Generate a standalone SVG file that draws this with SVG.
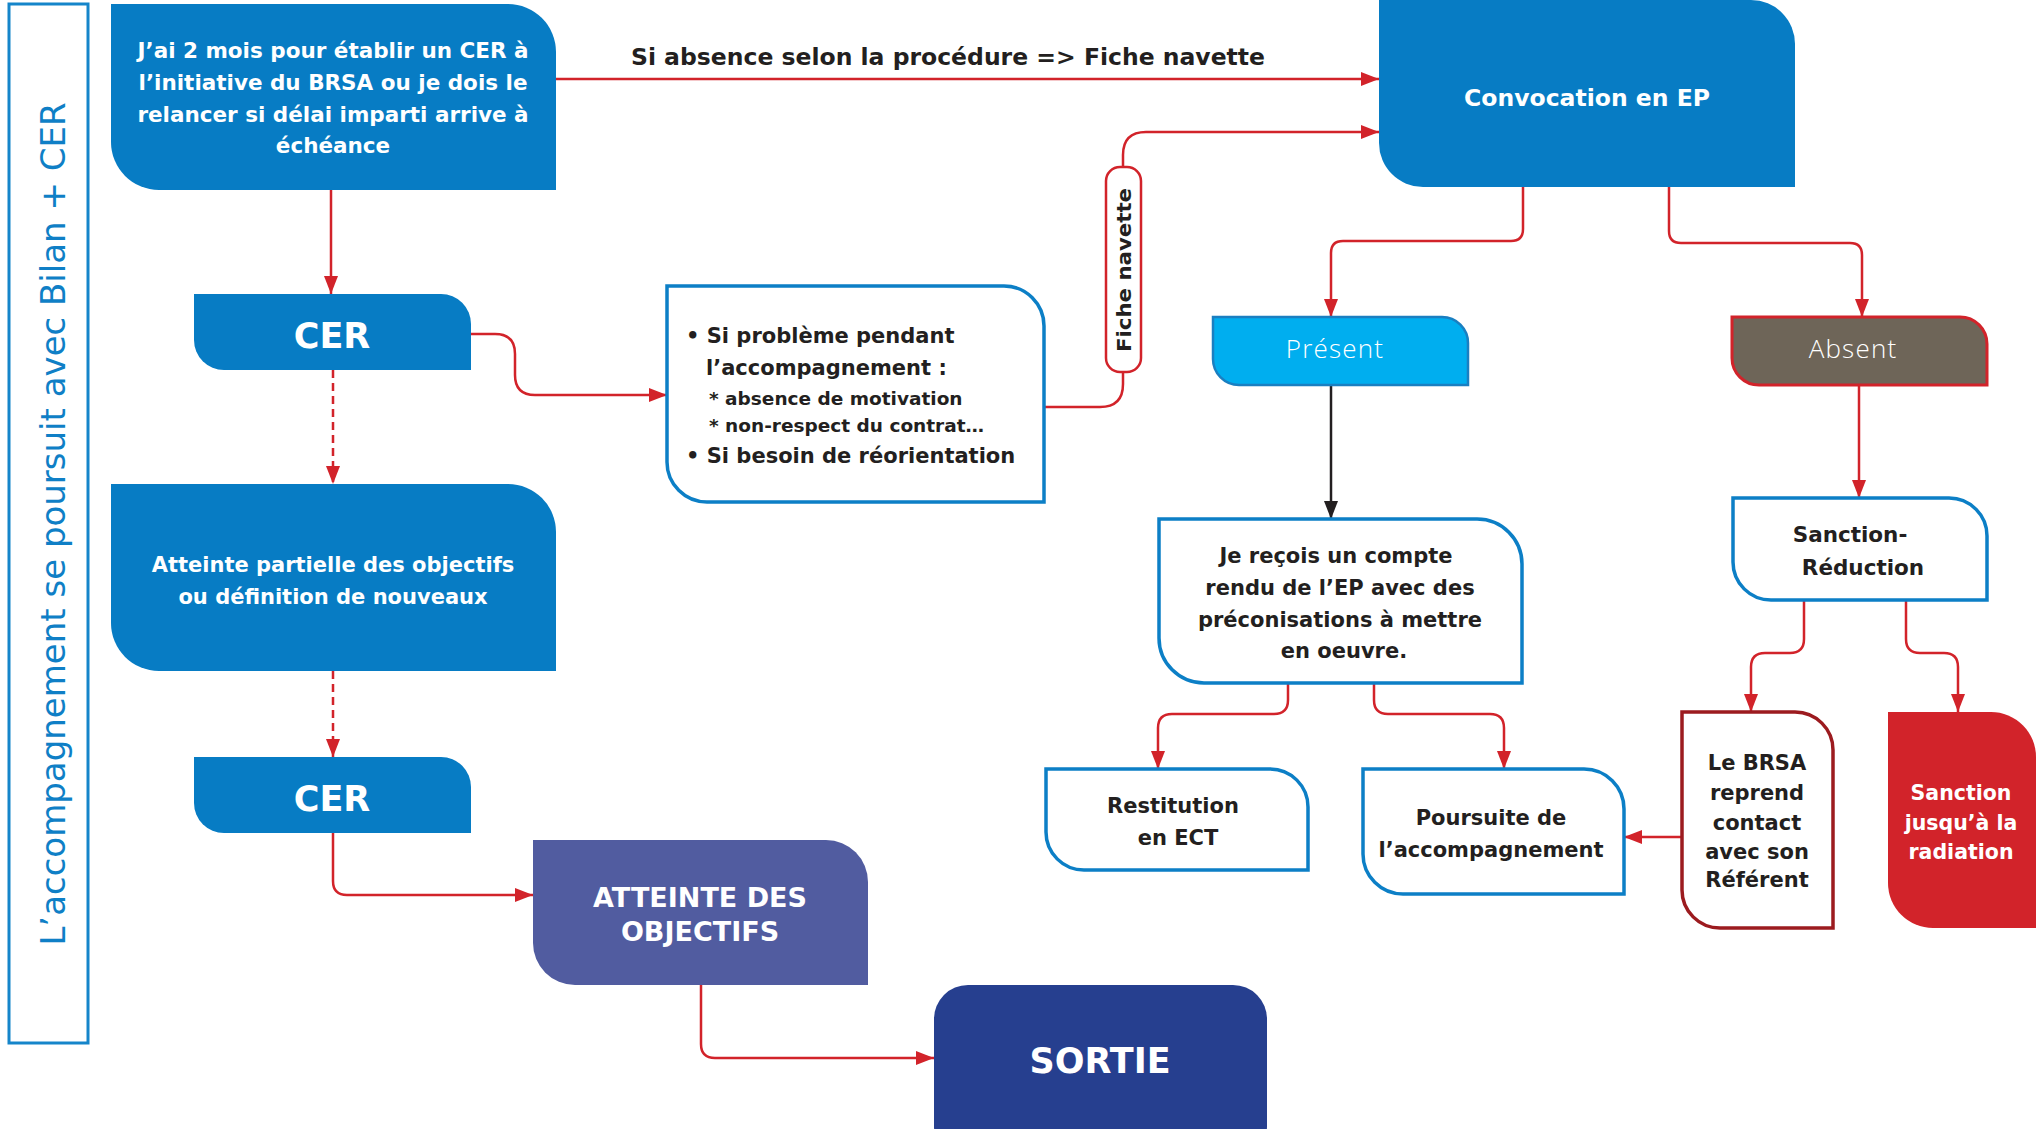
<svg xmlns="http://www.w3.org/2000/svg" width="2040" height="1129" viewBox="0 0 2040 1129">
  <style>
    .t { font-family: "DejaVu Sans", "Liberation Sans", sans-serif; font-weight: bold; text-anchor: middle; }
    .w { fill: #ffffff; }
    .k { fill: #231f20; }
    .lt { font-family: "Open Sans", "Lato", sans-serif; font-weight: 300; fill: #ffffff; text-anchor: middle; font-size: 26px; letter-spacing: 1.2px; }
    .fill-blue { fill: #077cc4; }
    .outline { fill: #ffffff; stroke: #0c7fc6; stroke-width: 3.5; }
    .wire { fill: none; stroke: #d2232a; stroke-width: 2.5; }
    .dash { stroke-dasharray: 8 5; }
  </style>
  <defs>
    <marker id="ar" markerUnits="userSpaceOnUse" markerWidth="18" markerHeight="14" refX="18" refY="7" orient="auto">
      <path d="M0,0 L18,7 L0,14 Z" fill="#d2232a"/>
    </marker>
    <marker id="ak" markerUnits="userSpaceOnUse" markerWidth="18" markerHeight="14" refX="18" refY="7" orient="auto">
      <path d="M0,0 L18,7 L0,14 Z" fill="#231f20"/>
    </marker>
  </defs>

  <rect width="2040" height="1129" fill="#ffffff"/>

  <!-- side banner -->
  <g id="banner">
    <rect x="9" y="4" width="79" height="1039" fill="none" stroke="#1585ca" stroke-width="3"/>
    <text transform="translate(65,524) rotate(-90)" font-family="DejaVu Sans, Liberation Sans, sans-serif" font-size="34" fill="#0f7fc6" text-anchor="middle">L’accompagnement se poursuit avec Bilan + CER</text>
  </g>

  <!-- connectors -->
  <g id="connectors">
    <path class="wire" d="M331,190 V294" marker-end="url(#ar)"/>
    <path class="wire" d="M556,79 H1379" marker-end="url(#ar)"/>
    <path class="wire" d="M471,334 H495 Q515,334 515,354 V375 Q515,395 535,395 H667" marker-end="url(#ar)"/>
    <path class="wire dash" d="M333,370 V484" marker-end="url(#ar)"/>
    <path class="wire dash" d="M333,671 V757" marker-end="url(#ar)"/>
    <path class="wire" d="M333,833 V881 Q333,895 347,895 H533" marker-end="url(#ar)"/>
    <path class="wire" d="M701,985 V1044 Q701,1058 715,1058 H934" marker-end="url(#ar)"/>
    <path class="wire" d="M1044,407 H1100 Q1123,407 1123,384 V371"/>
    <path class="wire" d="M1123,167 V155 Q1123,132 1146,132 H1379" marker-end="url(#ar)"/>
    <path class="wire" d="M1523,187 V229 Q1523,241 1511,241 H1343 Q1331,241 1331,253 V317" marker-end="url(#ar)"/>
    <path class="wire" d="M1669,187 V231 Q1669,243 1681,243 H1850 Q1862,243 1862,255 V317" marker-end="url(#ar)"/>
    <path d="M1331,385 V519" fill="none" stroke="#231f20" stroke-width="2.5" marker-end="url(#ak)"/>
    <path class="wire" d="M1859,385 V498" marker-end="url(#ar)"/>
    <path class="wire" d="M1288,683 V700 Q1288,714 1274,714 H1172 Q1158,714 1158,728 V769" marker-end="url(#ar)"/>
    <path class="wire" d="M1374,683 V700 Q1374,714 1388,714 H1490 Q1504,714 1504,728 V769" marker-end="url(#ar)"/>
    <path class="wire" d="M1804,600 V639 Q1804,653 1790,653 H1765 Q1751,653 1751,667 V712" marker-end="url(#ar)"/>
    <path class="wire" d="M1906,600 V639 Q1906,653 1920,653 H1944 Q1958,653 1958,667 V712" marker-end="url(#ar)"/>
    <path class="wire" d="M1682,837 H1624" marker-end="url(#ar)"/>
  </g>

  <!-- nodes -->
  <g id="delai">
    <path class="fill-blue" d="M111,4 H508 A48,48 0 0 1 556,52 V190 H159 A48,48 0 0 1 111,142 Z"/>
    <text class="t w" font-size="21.5"><tspan x="333" y="58">J’ai 2 mois pour établir un CER à</tspan><tspan x="333" y="90">l’initiative du BRSA ou je dois le</tspan><tspan x="333" y="122">relancer si délai imparti arrive à</tspan><tspan x="333" y="153">échéance</tspan></text>
  </g>

  <g id="label-absence">
    <text class="t k" x="948" y="65" font-size="23.5">Si absence selon la procédure =&gt; Fiche navette</text>
  </g>

  <g id="convocation">
    <path class="fill-blue" d="M1379,0 H1751 A44,44 0 0 1 1795,44 V187 H1423 A44,44 0 0 1 1379,143 Z"/>
    <text class="t w" x="1587" y="106" font-size="23.5">Convocation en EP</text>
  </g>

  <g id="cer-1">
    <path class="fill-blue" d="M194,294 H441 A30,30 0 0 1 471,324 V370 H224 A30,30 0 0 1 194,340 Z"/>
    <text class="t w" x="332" y="348" font-size="35">CER</text>
  </g>

  <g id="probleme">
    <path class="outline" d="M667,286 H1004 A40,40 0 0 1 1044,326 V502 H707 A40,40 0 0 1 667,462 Z"/>
    <text class="k" font-family="DejaVu Sans, Liberation Sans, sans-serif" font-weight="bold">
      <tspan x="686" y="343" font-size="21">• Si problème pendant</tspan>
      <tspan x="706" y="375" font-size="21">l’accompagnement :</tspan>
      <tspan x="709" y="405" font-size="18.5">* absence de motivation</tspan>
      <tspan x="709" y="432" font-size="18.5">* non-respect du contrat…</tspan>
      <tspan x="686" y="463" font-size="21">• Si besoin de réorientation</tspan>
    </text>
  </g>

  <g id="fiche-navette">
    <rect x="1106" y="167" width="35" height="205" rx="14" fill="#ffffff" stroke="#d2232a" stroke-width="2.5"/>
    <text class="t k" transform="translate(1131,270) rotate(-90)" font-size="20" textLength="164" lengthAdjust="spacingAndGlyphs">Fiche navette</text>
  </g>

  <g id="present">
    <path d="M1213,317 H1442 A26,26 0 0 1 1468,343 V385 H1239 A26,26 0 0 1 1213,359 Z" fill="#00aeef" stroke="#1a7fc1" stroke-width="2.5"/>
    <text class="lt" x="1335" y="358">Présent</text>
  </g>

  <g id="absent">
    <path d="M1732,317 H1960 A27,27 0 0 1 1987,344 V385 H1759 A27,27 0 0 1 1732,358 Z" fill="#6e6558" stroke="#d2232a" stroke-width="3"/>
    <text class="lt" x="1853" y="358">Absent</text>
  </g>

  <g id="atteinte-partielle">
    <path class="fill-blue" d="M111,484 H508 A48,48 0 0 1 556,532 V671 H159 A48,48 0 0 1 111,623 Z"/>
    <text class="t w" font-size="21"><tspan x="333" y="572">Atteinte partielle des objectifs</tspan><tspan x="333" y="604">ou définition de nouveaux</tspan></text>
  </g>

  <g id="cer-2">
    <path class="fill-blue" d="M194,757 H441 A30,30 0 0 1 471,787 V833 H224 A30,30 0 0 1 194,803 Z"/>
    <text class="t w" x="332" y="811" font-size="35">CER</text>
  </g>

  <g id="atteinte-objectifs">
    <path d="M533,840 H826 A42,42 0 0 1 868,882 V985 H575 A42,42 0 0 1 533,943 Z" fill="#515ca0"/>
    <text class="t w" font-size="27"><tspan x="700" y="907">ATTEINTE DES</tspan><tspan x="700" y="941">OBJECTIFS</tspan></text>
  </g>

  <g id="sortie">
    <rect x="934" y="985" width="333" height="175" rx="34" fill="#263f8f"/>
    <text class="t w" x="1100" y="1073" font-size="35">SORTIE</text>
  </g>

  <g id="compte-rendu">
    <path class="outline" d="M1159,519 H1477 A45,45 0 0 1 1522,564 V683 H1204 A45,45 0 0 1 1159,638 Z"/>
    <text class="t k" font-size="21"><tspan x="1336" y="563">Je reçois un compte</tspan><tspan x="1340" y="595">rendu de l’EP avec des</tspan><tspan x="1340" y="627">préconisations à mettre</tspan><tspan x="1344" y="658">en oeuvre.</tspan></text>
  </g>

  <g id="restitution">
    <path class="outline" d="M1046,769 H1270 A38,38 0 0 1 1308,807 V870 H1084 A38,38 0 0 1 1046,832 Z"/>
    <text class="t k" font-size="21"><tspan x="1173" y="813">Restitution</tspan><tspan x="1178" y="845">en ECT</tspan></text>
  </g>

  <g id="poursuite">
    <path class="outline" d="M1363,769 H1584 A40,40 0 0 1 1624,809 V894 H1403 A40,40 0 0 1 1363,854 Z"/>
    <text class="t k" font-size="21"><tspan x="1491" y="825">Poursuite de</tspan><tspan x="1491" y="857">l’accompagnement</tspan></text>
  </g>

  <g id="sanction-reduction">
    <path class="outline" d="M1733,498 H1949 A38,38 0 0 1 1987,536 V600 H1771 A38,38 0 0 1 1733,562 Z"/>
    <text class="t k" font-size="21.5"><tspan x="1850" y="542">Sanction-</tspan><tspan x="1863" y="575">Réduction</tspan></text>
  </g>

  <g id="reprise-contact">
    <path d="M1682,712 H1795 A38,38 0 0 1 1833,750 V928 H1720 A38,38 0 0 1 1682,890 Z" fill="#ffffff" stroke="#9c1b1f" stroke-width="3.5"/>
    <text class="t k" font-size="21"><tspan x="1757" y="770">Le BRSA</tspan><tspan x="1757" y="800">reprend</tspan><tspan x="1757" y="830">contact</tspan><tspan x="1757" y="859">avec son</tspan><tspan x="1757" y="887">Référent</tspan></text>
  </g>

  <g id="radiation">
    <path d="M1888,712 H1991 A45,45 0 0 1 2036,757 V928 H1933 A45,45 0 0 1 1888,883 Z" fill="#d2232a"/>
    <text class="t w" font-size="20.5"><tspan x="1961" y="800">Sanction</tspan><tspan x="1961" y="830">jusqu’à la</tspan><tspan x="1961" y="859">radiation</tspan></text>
  </g>
</svg>
